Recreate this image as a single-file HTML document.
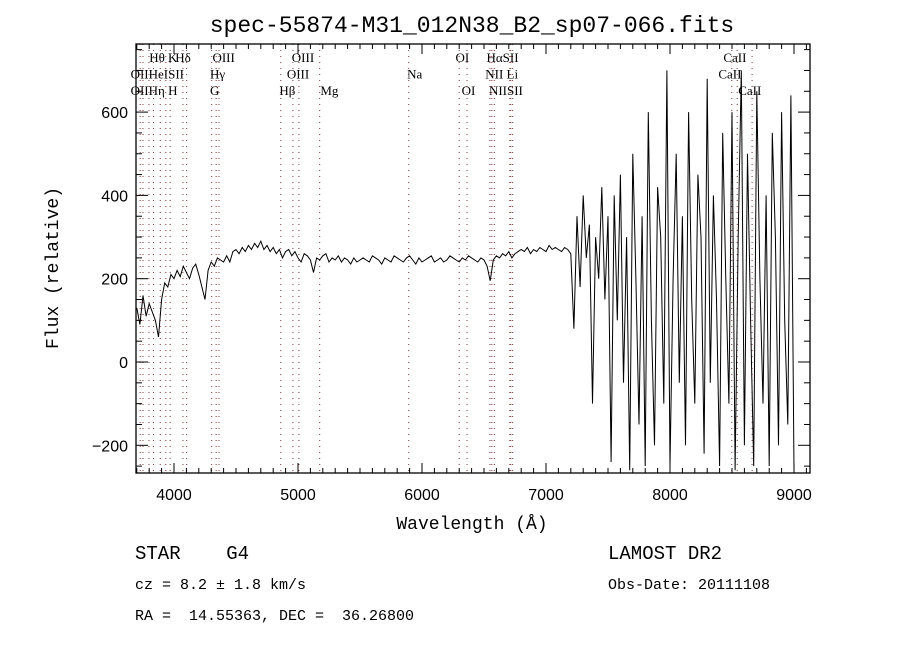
<!DOCTYPE html>
<html><head><meta charset="utf-8"><style>
body{margin:0;background:#fff;}
svg text{font-family:"Liberation Sans",sans-serif;white-space:pre;}
.ser{font-family:"Liberation Serif",serif;}
.mono{font-family:"Liberation Mono",monospace;}
</style></head><body>
<svg id="chart" width="900" height="650" viewBox="0 0 900 650" xmlns="http://www.w3.org/2000/svg" xml:space="preserve">
<rect width="900" height="650" fill="#fff"/>
<text x="472" y="32" text-anchor="middle" font-size="23" class="mono">spec-55874-M31_012N38_B2_sp07-066.fits</text>
<text x="0" y="0" transform="translate(58,268) rotate(-90)" text-anchor="middle" font-size="18" class="mono">Flux (relative)</text>
<text x="472" y="529" text-anchor="middle" font-size="18" class="mono">Wavelength (Å)</text>
<text x="135" y="559" font-size="19" class="mono">STAR    G4</text>
<text x="135" y="589" font-size="15" class="mono">cz = 8.2 ± 1.8 km/s</text>
<text x="135" y="620" font-size="15" class="mono">RA =  14.55363, DEC =  36.26800</text>
<text x="608" y="559" font-size="19" class="mono">LAMOST DR2</text>
<text x="608" y="589" font-size="15" class="mono">Obs-Date: 20111108</text>
<defs><clipPath id="clip"><rect x="136" y="44" width="674" height="429"/></clipPath></defs>
<g id="lines"></g>
<g id="series" clip-path="url(#clip)"></g>
<g id="axes"></g>
</svg>
<script>
const waveStart = 3700;
const waveStep = 25;
const flux = [
130,90,160,110,140,120,100,60,150,190,180,210,200,
220,205,230,215,200,225,235,210,180,150,220,240,230,250,245,240,
255,240,265,270,260,275,265,280,270,285,275,290,270,280,265,275,260,270,250,265,
270,255,265,250,240,260,255,245,215,250,245,255,260,240,250,245,255,240,250,245,235,250,240,245,
250,245,240,255,250,245,235,250,245,240,255,250,245,240,250,255,245,235,250,240,245,250,255,240,245,250,240,245,255,250,245,240,250,245,255,250,245,240,250,245,
230,195,245,
255,250,260,255,265,250,260,265,270,265,275,260,270,265,275,270,265,280,270,275,270,265,275,270,260,
80,350,180,400,250,330,-100,300,200,420,150,350,-240,400,100,450,-50,300,-260,500,200,-150,350,-250,600,100,-200,420,300,-100,700,-250,200,500,-50,350,-200,600,150,-100,450,300,-220,680,-50,400,150,-250,550,200,-100,600,-260,300,700,-200,500,100,-250,650,200,-100,400,-250,550,300,-200,600,100,-150,640,-260
];
const xTicks = [4000,5000,6000,7000,8000,9000];
const yTicks = [-200,0,200,400,600];
const lineWaves = [3727,3750,3798,3835,3889,3934,3969,4072,4102,4304,4340,4363,4861,4959,5007,5175,5893,6300,6363,6548,6563,6583,6708,6716,6731,8498,8542,8662];
const labelText = ["Hθ K","Hδ","OIII","OIII","OI","HαSII","CaII","OIIHeISII","Hγ","OIII","Na","NII Li","CaII","OIIHη H","G","Hβ","Mg","OI","NIISII","CaII"];
const labelWave = [3800,4010,4310,4950,6270,6520,8430,3650,4290,4910,5880,6510,8390,3650,4290,4850,5180,6320,6540,8550];
const labelRow = [0,0,0,0,0,0,0,1,1,1,1,1,1,2,2,2,2,2,2,2];

const X0=136,X1=810,Y0=44,Y1=473;
const x = w => 174 + (w-4000)*0.124;
const y = f => 362 - f*(83.3/200);
const NS="http://www.w3.org/2000/svg";
function mk(tag, parent, attrs){const e=document.createElementNS(NS,tag);for(const k in attrs)e.setAttribute(k,attrs[k]);parent.appendChild(e);return e;}

const gl=document.getElementById('lines');
lineWaves.forEach(w=>{
  const l=mk('line',gl,{x1:x(w),x2:x(w),y1:Y0,y2:Y1,stroke:'#8a3030','stroke-width':1,'stroke-dasharray':'1,5'});
  
  
});
labelText.forEach((t,i)=>{
  const e=mk('text',gl,{x:Math.max(x(labelWave[i]),130),y:62+labelRow[i]*16.5,'font-size':13,class:'ser'});
  e.textContent=t;
  
  
});

const gs=document.getElementById('series');
let d='';
flux.forEach((f,i)=>{d+=(i?'L':'M')+x(waveStart+i*waveStep).toFixed(1)+','+y(f).toFixed(1);});
const p=mk('path',gs,{d:d,fill:'none',stroke:'#000','stroke-width':1});



const ga=document.getElementById('axes');
const fr=mk('rect',ga,{x:X0,y:Y0,width:X1-X0,height:Y1-Y0,fill:'none',stroke:'#000','stroke-width':1.3});


for(let w=3700;w<=9100;w+=100){
  const px=x(w);if(px<X0||px>X1)continue;
  const L=(w%1000===0)?10:5;
  mk('line',ga,{x1:px,x2:px,y1:Y1,y2:Y1-L,stroke:'#000'});
  mk('line',ga,{x1:px,x2:px,y1:Y0,y2:Y0+L,stroke:'#000'});
}
for(let f=-250;f<=750;f+=50){
  const py=y(f);if(py<Y0||py>Y1)continue;
  const L=(f%200===0)?12:6;
  mk('line',ga,{x1:X0,x2:X0+L,y1:py,y2:py,stroke:'#000'});
  mk('line',ga,{x1:X1,x2:X1-L,y1:py,y2:py,stroke:'#000'});
}
xTicks.forEach(v=>{
  const t=mk('text',ga,{x:x(v),y:500,'text-anchor':'middle','font-size':16});
  t.textContent=v;
  
  
});
yTicks.forEach(v=>{
  const t=mk('text',ga,{x:128,y:y(v)+6,'text-anchor':'end','font-size':16});
  t.textContent=v<0?'\u2212'+(-v):v;
  
  
});
</script>
</body></html>
